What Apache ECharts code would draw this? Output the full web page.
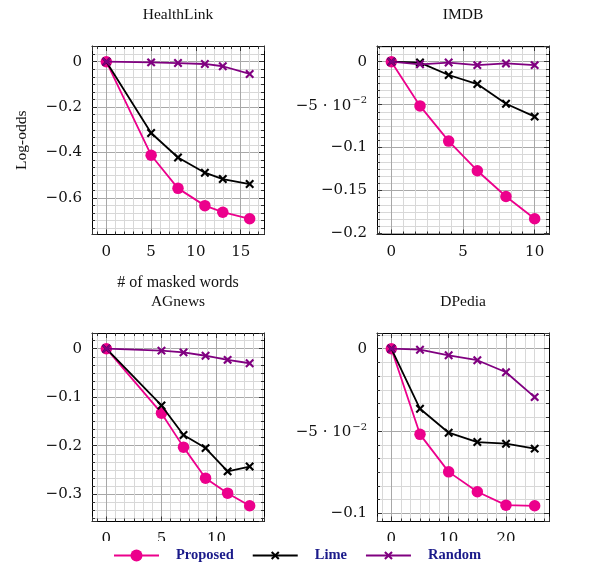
<!DOCTYPE html>
<html><head><meta charset="utf-8">
<script src="https://cdn.jsdelivr.net/npm/echarts@6/dist/echarts.min.js"></script>
<style>html,body{margin:0;padding:0;background:#fff}#c{width:595px;height:564px}</style>
</head><body><div id="c"></div>
<script>
// ---------- data ----------
const seriesNames = ['Proposed', 'Lime', 'Random'];

const healthX        = [0, 5, 8, 11, 13, 16];
const healthProposed = [0, -0.412, -0.558, -0.634, -0.663, -0.692];
const healthLime     = [0, -0.314, -0.422, -0.489, -0.517, -0.539];
const healthRandom   = [0, -0.003, -0.006, -0.010, -0.020, -0.054];

const imdbX        = [0, 2, 4, 6, 8, 10];
const imdbProposed = [0, -0.0515, -0.0925, -0.127, -0.157, -0.183];
const imdbLime     = [0, -0.001, -0.0155, -0.026, -0.049, -0.064];
const imdbRandom   = [0, -0.003, -0.001, -0.004, -0.002, -0.004];

const agX        = [0, 5, 7, 9, 11, 13];
const agProposed = [0, -0.133, -0.203, -0.267, -0.298, -0.324];
const agLime     = [0, -0.117, -0.178, -0.205, -0.253, -0.243];
const agRandom   = [0, -0.004, -0.0076, -0.0145, -0.023, -0.030];

const dpX        = [0, 5, 10, 15, 20, 25];
const dpProposed = [0, -0.052, -0.0748, -0.0869, -0.095, -0.0954];
const dpLime     = [0, -0.0365, -0.051, -0.0567, -0.0577, -0.0607];
const dpRandom   = [0, -0.0006, -0.004, -0.007, -0.0143, -0.0294];

const panelTitles = ['HealthLink', 'IMDB', 'AGnews', 'DPedia'];
const xTickSteps = [5, 5, 5, 10];
const yTickSteps = [0.2, 0.05, 0.1, 0.05];

// ---------- layout / style ----------
const layout = [
  { left: 92,  top: 46,  xMinor: 5, yMinor: 6 },
  { left: 377, top: 46,  xMinor: 6, yMinor: 6 },
  { left: 92,  top: 333, xMinor: 6, yMinor: 6 },
  { left: 377, top: 333, xMinor: 6, yMinor: 6 }
];
const GW = 172, GH = 188.5;
const colors = ['#ec008c', '#000000', '#800080'];
const crossPath = 'path://M-2,-2L-2,-2M12,12L12,12M0,1.7L1.7,0L5,3.3L8.3,0L10,1.7L6.7,5L10,8.3L8.3,10L5,6.7L1.7,10L0,8.3L3.3,5Z';
const symbols = ['circle', crossPath, crossPath];
const symbolSizes = [11.5, 12.5, 12.5];
const tickFont = 'DejaVu Serif';
const textFont = 'Liberation Serif';

const panelData = [
  { x: healthX, ys: [healthProposed, healthLime, healthRandom] },
  { x: imdbX,   ys: [imdbProposed, imdbLime, imdbRandom] },
  { x: agX,     ys: [agProposed, agLime, agRandom] },
  { x: dpX,     ys: [dpProposed, dpLime, dpRandom] }
];

function enlarge(arr) {
  const mn = Math.min(...arr), mx = Math.max(...arr);
  const r = mx - mn;
  return [mn - 0.1 * r, mx + 0.1 * r];
}

function yFmt(v) {
  const r = Math.round(v * 1e6) / 1e6;
  if (r === 0) return '0';
  if (Math.abs(r + 0.05) < 1e-9) return '{a|\u22125 \u00b7 10}{b|\u22122}';
  return (r < 0 ? '\u2212' : '') + String(Math.abs(r));
}
function xFmt(v) {
  const r = Math.round(v * 1e6) / 1e6;
  return String(r);
}

const grids = [], xAxes = [], yAxes = [], series = [], titles = [];
const tickStyle = { color: '#333', width: 1 };

panelData.forEach((p, i) => {
  const L = layout[i];
  grids.push({ left: L.left, top: L.top, width: GW, height: GH });
  const xr = enlarge(p.x);
  const yr = enlarge([].concat(...p.ys));
  const common = (min, max, step, minor) => ({
    type: 'value', gridIndex: i, min: min, max: max,
    minInterval: step, maxInterval: step,
    axisLine: { show: true, onZero: false, lineStyle: { color: '#000', width: 1 } },
    axisTick: { show: true, inside: true, length: 5, lineStyle: tickStyle },
    minorTick: { show: true, splitNumber: minor, length: 3, lineStyle: tickStyle }
  });
  const labelCommon = {
    showMinLabel: false, showMaxLabel: false, margin: 10,
    fontFamily: tickFont, fontSize: 15, color: '#111'
  };
  xAxes.push(Object.assign(common(xr[0], xr[1], xTickSteps[i], L.xMinor), {
    position: 'bottom',
    splitLine: { show: true, lineStyle: { color: '#a8a8a8', width: 1 } },
    minorSplitLine: { show: true, lineStyle: { color: '#d8d8d8', width: 1 } },
    axisLabel: Object.assign({ formatter: xFmt }, labelCommon),
    name: i === 0 ? '# of masked words' : '',
    nameLocation: 'middle', nameGap: 40,
    nameTextStyle: { fontFamily: textFont, fontSize: 16, color: '#111' }
  }));
  xAxes.push(Object.assign(common(xr[0], xr[1], xTickSteps[i], L.xMinor), {
    position: 'top', splitLine: { show: false }, minorSplitLine: { show: false },
    axisLabel: { show: false }
  }));
  yAxes.push(Object.assign(common(yr[0], yr[1], yTickSteps[i], L.yMinor), {
    position: 'left',
    splitLine: { show: true, lineStyle: { color: '#a8a8a8', width: 1 } },
    minorSplitLine: { show: true, lineStyle: { color: '#d8d8d8', width: 1 } },
    axisLabel: Object.assign({
      formatter: yFmt,
      rich: {
        a: { fontFamily: tickFont, fontSize: 15, color: '#111', verticalAlign: 'bottom' },
        b: { fontFamily: tickFont, fontSize: 10, color: '#111', verticalAlign: 'top', padding: [0, 0, 8, 1] }
      }
    }, labelCommon),
    name: i === 0 ? 'Log-odds' : '',
    nameLocation: 'middle', nameGap: 62,
    nameTextStyle: { fontFamily: textFont, fontSize: 15.5, color: '#111' }
  }));
  yAxes.push(Object.assign(common(yr[0], yr[1], yTickSteps[i], L.yMinor), {
    position: 'right', splitLine: { show: false }, minorSplitLine: { show: false },
    axisLabel: { show: false }
  }));
  titles.push({
    text: panelTitles[i], left: L.left + GW / 2, top: L.top - 39.5, textAlign: 'center', padding: 0,
    textStyle: { fontFamily: textFont, fontSize: 15.5, fontWeight: 'normal', color: '#111', lineHeight: 16 }
  });
  p.ys.forEach((ys, k) => {
    series.push({
      type: 'line', name: seriesNames[k],
      xAxisIndex: 2 * i, yAxisIndex: 2 * i,
      data: p.x.map((xv, j) => [xv, ys[j]]),
      symbol: symbols[k], symbolSize: symbolSizes[k],
      lineStyle: { color: colors[k], width: 1.8 },
      itemStyle: { color: colors[k], borderWidth: 0 },
      z: 3 + k, animation: false, silent: true
    });
  });
});

const chart = echarts.init(document.getElementById('c'), null, { renderer: 'canvas' });
chart.setOption({
  animation: false,
  backgroundColor: '#fff',
  title: titles,
  grid: grids,
  xAxis: xAxes,
  yAxis: yAxes,
  legend: {
    data: seriesNames, left: 100, top: 541, padding: [7, 38, 12, 13],
    backgroundColor: '#fff', itemWidth: 45, itemHeight: 15, itemGap: 18,
    selectedMode: false,
    textStyle: { fontFamily: textFont, fontWeight: 'bold', fontSize: 14.5, color: '#1a1a8a', padding: [0, 0, 0, 12] }
  },
  series: series
});
</script>
</body></html>
